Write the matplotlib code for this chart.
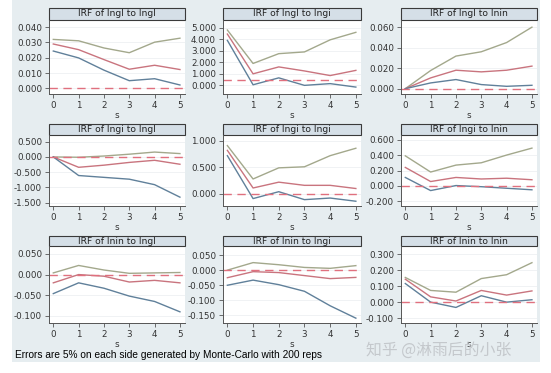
import matplotlib.pyplot as plt
from matplotlib.patches import Rectangle

steps = [0, 1, 2, 3, 4, 5]

titles = ['IRF of lngl to lngl', 'IRF of lngl to lngi', 'IRF of lngl to lnin',
          'IRF of lngi to lngl', 'IRF of lngi to lngi', 'IRF of lngi to lnin',
          'IRF of lnin to lngl', 'IRF of lnin to lngi', 'IRF of lnin to lnin']

# upper bound, irf, lower bound for each panel
upper = [
    [0.032, 0.0311, 0.0264, 0.0233, 0.0302, 0.0328],
    [4.8, 1.9, 2.75, 2.9, 3.95, 4.6],
    [0.0, 0.0177, 0.0318, 0.036, 0.045, 0.060],
    [0.0, -0.01, 0.03, 0.09, 0.16, 0.11],
    [0.91, 0.28, 0.49, 0.51, 0.72, 0.86],
    [0.39, 0.18, 0.27, 0.30, 0.40, 0.49],
    [0.004, 0.022, 0.011, 0.003, 0.004, 0.005],
    [0.0, 0.025, 0.018, 0.009, 0.006, 0.015],
    [0.154, 0.073, 0.062, 0.147, 0.171, 0.246],
]
irf = [
    [0.029, 0.0253, 0.0188, 0.0125, 0.0151, 0.0123],
    [4.45, 1.0, 1.6, 1.25, 0.85, 1.3],
    [0.0, 0.0105, 0.018, 0.0164, 0.018, 0.022],
    [0.0, -0.34, -0.27, -0.18, -0.11, -0.24],
    [0.82, 0.11, 0.22, 0.16, 0.16, 0.10],
    [0.24, 0.057, 0.11, 0.09, 0.10, 0.08],
    [-0.02, 0.0, -0.004, -0.018, -0.014, -0.02],
    [-0.025, -0.005, -0.008, -0.018, -0.028, -0.024],
    [0.143, 0.033, 0.007, 0.073, 0.044, 0.070],
]
lower = [
    [0.0244, 0.0199, 0.0119, 0.005, 0.0063, 0.0022],
    [3.9, 0.05, 0.65, 0.0, 0.15, -0.15],
    [0.0, 0.0056, 0.0089, 0.004, 0.0023, 0.0033],
    [0.0, -0.61, -0.67, -0.73, -0.91, -1.32],
    [0.72, -0.09, 0.04, -0.11, -0.08, -0.14],
    [0.11, -0.06, 0.005, -0.01, -0.03, -0.05],
    [-0.046, -0.02, -0.033, -0.052, -0.065, -0.09],
    [-0.05, -0.033, -0.048, -0.07, -0.118, -0.159],
    [0.116, 0.0, -0.033, 0.04, 0.0, 0.015],
]
# reference (dashed) line level as drawn in each panel
ref_level = [0, 0.5, 0, 0, 0, 0, 0, 0, 0]

yticks = [
    [0, 0.01, 0.02, 0.03, 0.04],
    [0, 1, 2, 3, 4, 5],
    [0, 0.02, 0.04, 0.06],
    [-1.5, -1.0, -0.5, 0, 0.5],
    [0, 0.5, 1.0],
    [-0.2, 0, 0.2, 0.4, 0.6],
    [-0.1, -0.05, 0, 0.05],
    [-0.15, -0.1, -0.05, 0, 0.05],
    [-0.1, 0, 0.1, 0.2, 0.3],
]
ylims = [(-0.0037, 0.0447), (-0.75, 5.67), (-0.0052, 0.067),
         (-1.61, 0.72), (-0.23, 1.11), (-0.26, 0.66),
         (-0.117, 0.069), (-0.175, 0.08), (-0.13, 0.35)]

W, H = 551, 373
bg = '#e6edf0'
fig = plt.figure(figsize=(W / 100, H / 100), dpi=100)
fig.patch.set_facecolor('white')
fig.patches.append(Rectangle((12 / W, 1 - 362 / H), 528 / W, 362 / H,
                             transform=fig.transFigure, facecolor=bg,
                             edgecolor='none', zorder=-10))

col_x = [(49, 185), (223, 361), (401, 537)]
row_y = [(8, 20, 94), (124, 135, 206), (236, 246, 323)]

for i in range(9):
    r, c = divmod(i, 3)
    x0, x1 = col_x[c]
    tt, t0, b0 = row_y[r]
    ax = fig.add_axes([x0 / W, 1 - b0 / H, (x1 - x0) / W, (b0 - t0) / H])
    ax.set_facecolor('white')
    for s in ['top', 'right']:
        ax.spines[s].set_visible(False)
    for s in ['left', 'bottom']:
        ax.spines[s].set_color('#555555')
        ax.spines[s].set_linewidth(0.7)
    ax.plot(steps, upper[i], color='#a3a88c', lw=1.0)
    ax.plot(steps, irf[i], color='#c9747e', lw=1.0)
    ax.plot(steps, lower[i], color='#60809a', lw=1.0)
    ax.axhline(ref_level[i], color='#e0707e', lw=1.0, ls=(0, (6, 4)))
    ax.set_xlim(-0.17, 5.2)
    ax.set_ylim(*ylims[i])
    ax.set_xticks(steps)
    ax.set_yticks(yticks[i])
    ax.set_yticklabels(['%.3f' % v for v in yticks[i]])
    ax.grid(axis='y', color='#eef0f2', lw=0.6)
    ax.set_axisbelow(True)
    ax.tick_params(labelsize=6.3, length=3, width=0.6, color='#555555',
                   labelcolor='#333333', pad=2)
    ax.set_xlabel('s', fontsize=6.3, color='#333333', labelpad=1)
    # title box
    th = (t0 - tt) / (b0 - t0)
    ax.add_patch(Rectangle((0, 1), 1, th, transform=ax.transAxes,
                           facecolor='#d5dfe7', edgecolor='#3a3a3a', lw=0.8,
                           clip_on=False))
    ax.text(0.5, 1 + th / 2, titles[i], transform=ax.transAxes, ha='center',
            va='center', fontsize=6.6, color='#222222')

fig.text(15 / W, 1 - 355 / H, 'Errors are 5% on each side generated by Monte-Carlo with 200 reps',
         fontsize=7.25, color='black', va='center', ha='left',
         family='Liberation Sans')
fig.text(511 / W, 1 - 350 / H, '知乎 @淋雨后的小张', fontsize=11.4, color='#c4c8cc',
         va='center', ha='right', family=['Noto Sans CJK SC', 'DejaVu Sans'])

fig.savefig('out.png', dpi=100)
